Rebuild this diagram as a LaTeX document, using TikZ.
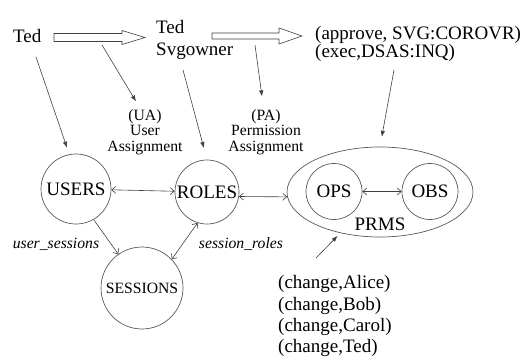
\documentclass[tikz,border=0pt]{standalone}
\usepackage{fontspec}
\setmainfont{Liberation Serif}
\usetikzlibrary{arrows.meta,shapes.geometric}

\definecolor{ink}{gray}{0.25}
\definecolor{rim}{gray}{0.35}

\begin{document}
\begin{tikzpicture}[x=1pt,y=-1pt,
  big/.style={font=\fontsize{19}{21}\selectfont, inner sep=0pt},
  small/.style={font=\fontsize{15.7}{15}\selectfont, inner sep=0pt},
  smallit/.style={font=\fontsize{15.7}{15}\selectfont\itshape, inner sep=0pt},
  setcircle/.style={circle, draw=rim, line width=0.7pt, inner sep=0pt},
  barb/.tip={Straight Barb[length=4pt,width=7pt]},
  relation/.style={draw=ink, line width=0.6pt, barb-barb},
  relationone/.style={draw=ink, line width=0.6pt, -barb},
  pointer/.style={draw=ink, line width=0.6pt, -{Latex[length=6pt,width=4.5pt]}},
  fatarrow/.style={draw=ink, line width=0.6pt, fill=white},
]
\useasboundingbox (0,0) rectangle (527,362);

% sets of the model
\node[setcircle, big, minimum size=70pt] (users) at (76,189) {USERS};
\node[setcircle, big, minimum size=64pt] (roles) at (207,192) {ROLES};
\node[setcircle, small, minimum size=82pt] (sessions) at (142,288) {SESSIONS};
\node[ellipse, draw=rim, line width=0.7pt, minimum width=186pt, minimum height=90pt, inner sep=0pt] (prms) at (380,192) {};
\node[setcircle, big, minimum size=56pt] (ops) at (334,191.5) {OPS};
\node[setcircle, big, minimum size=56pt] (obs) at (430,191.5) {OBS};
\node[big, anchor=base] (prmslabel) at (380,230) {PRMS};

% relations between the sets
\draw[relation] (users) -- (roles);
\draw[relation] (roles.-8) -- (prms.183);
\draw[relation] (ops) -- (obs);
\draw[relationone] (users.-60) -- (sessions.125);
\draw[relation] (sessions.44) -- (roles.253);

\node[smallit, anchor=base] (us) at (56,248) {user\_sessions};
\node[smallit, anchor=base] (sr) at (241,248) {session\_roles};

% example members
\node[big, anchor=base west] (ted) at (13,42.5) {Ted};
\node[big, anchor=base west] (ted2) at (156,33.3) {Ted};
\node[big, anchor=base west] (owner) at (156,55) {Svgowner};
\node[big, anchor=base west] (perm1) at (315,39.5) {(approve, SVG:COROVR)};
\node[big, anchor=base west] (perm2) at (315,57.5) {(exec,DSAS:INQ)};

\node[big, anchor=base west] (ch1) at (278,288) {(change,Alice)};
\node[big, anchor=base west] (ch2) at (278,310) {(change,Bob)};
\node[big, anchor=base west] (ch3) at (278,331.5) {(change,Carol)};
\node[big, anchor=base west] (ch4) at (278,352.5) {(change,Ted)};

% assignment labels
\node[small, anchor=base] (ua) at (145,120.5) {(UA)};
\node[small, anchor=base] (uauser) at (145,135.5) {User};
\node[small, anchor=base] (uaassign) at (145,151) {Assignment};
\node[small, anchor=base] (pa) at (266,120.5) {(PA)};
\node[small, anchor=base] (paperm) at (266,135.5) {Permission};
\node[small, anchor=base] (paassign) at (266,151) {Assignment};

% hollow assignment arrows
\draw[fatarrow] (54,33.5) -- (122,33.5) -- (122,30.5) -- (145,37.5) -- (122,44.5) -- (122,41.5) -- (54,41.5) -- cycle;
\draw[fatarrow] (212,33) -- (279,33) -- (279,28) -- (302,36) -- (279,44) -- (279,39) -- (212,39) -- cycle;

% pointers from members and assignments
\coordinate (tedfoot) at (36,57);
\coordinate (uafoot) at (102,45);
\coordinate (ownerfoot) at (183,70);
\coordinate (pafoot) at (255,45);
\coordinate (execfoot) at (394,70);
\coordinate (changehead) at (316,258);

\draw[pointer, shorten >=7pt] (tedfoot) -- (users.101);
\draw[pointer] (uafoot) -- ([xshift=-9pt, yshift=8pt]ua.north);
\draw[pointer, shorten >=12pt] (ownerfoot) -- (roles.north);
\draw[pointer] (pafoot) -- ([xshift=-4pt, yshift=13pt]pa.north);
\draw[pointer, shorten >=10pt] (execfoot) -- (prms.north);
\draw[pointer, shorten >=4pt] (changehead) -- (prms.-134);
\end{tikzpicture}
\end{document}
